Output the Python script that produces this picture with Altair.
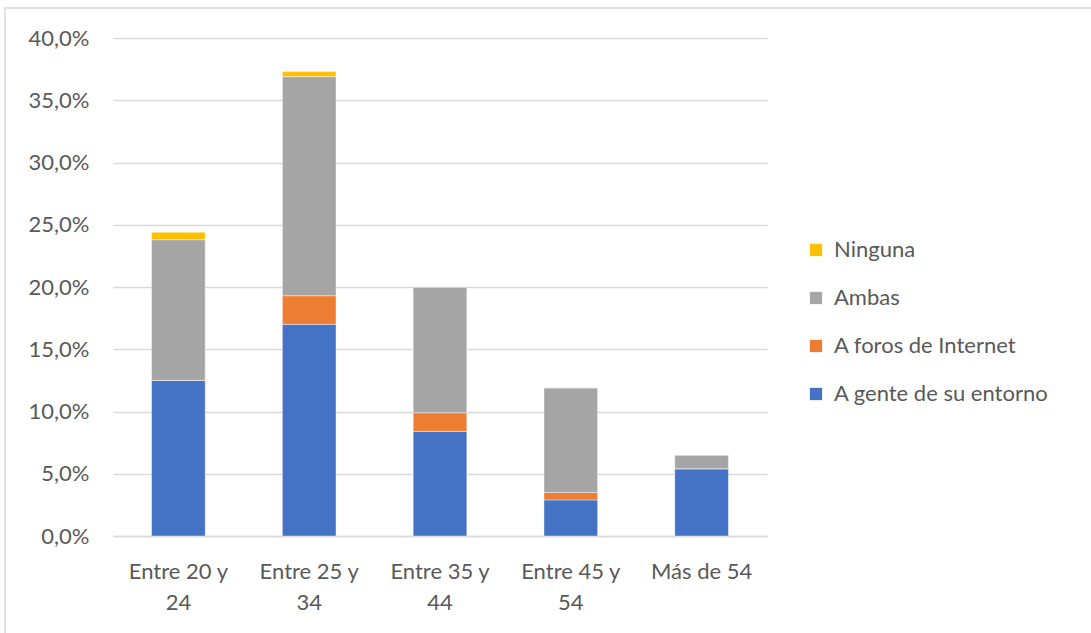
import altair as alt
import pandas as pd

categories = ["Entre 20 y 24", "Entre 25 y 34", "Entre 35 y 44", "Entre 45 y 54", "Más de 54"]
series = ["A gente de su entorno", "A foros de Internet", "Ambas", "Ninguna"]
gente = [12.5, 17.0, 8.4, 2.9, 5.4]
foros = [0.0, 2.3, 1.5, 0.6, 0.0]
ambas = [11.3, 17.6, 10.1, 8.4, 1.1]
ninguna = [0.6, 0.4, 0.0, 0.0, 0.0]

rows = []
for si, (name, vals) in enumerate(zip(series, [gente, foros, ambas, ninguna])):
    for c, v in zip(categories, vals):
        rows.append({"cat": c, "serie": name, "valor": v, "orden": si})
df = pd.DataFrame(rows)

legend_order = ["Ninguna", "Ambas", "A foros de Internet", "A gente de su entorno"]
legend_colors = ["#FFC000", "#A5A5A5", "#ED7D31", "#4472C4"]

font = "Lato"
fs = 22

bars = alt.Chart(df).mark_bar(stroke="white", strokeWidth=0.6, strokeOpacity=0.7).encode(
    x=alt.X("cat:N", sort=categories, title=None,
            scale=alt.Scale(paddingInner=0.59, paddingOuter=0.295),
            axis=alt.Axis(labelAngle=0, ticks=False, domain=True, domainColor="#D9D9D9",
                          domainWidth=1.5, labelPadding=25, labelFontSize=fs,
                          labelColor="#595959", labelFont=font, labelLineHeight=31,
                          labelLimit=0,
                          labelExpr="length(datum.value) > 10 ? [slice(datum.value, 0, 10), slice(datum.value, 11)] : datum.value")),
    y=alt.Y("valor:Q", stack="zero", title=None,
            scale=alt.Scale(domain=[0, 40], nice=False),
            axis=alt.Axis(values=[0, 5, 10, 15, 20, 25, 30, 35, 40], ticks=False, domain=False,
                          gridColor="#D9D9D9", gridWidth=1.5, labelPadding=24,
                          labelFontSize=fs, labelColor="#595959", labelFont=font,
                          labelExpr="replace(format(datum.value, '.1f'), '.', ',') + '%'")),
    color=alt.Color("serie:N", title=None,
                    scale=alt.Scale(domain=legend_order, range=legend_colors),
                    legend=alt.Legend(orient="none", legendX=692, legendY=201,
                                      symbolType="square", symbolSize=150,
                                      symbolStrokeWidth=0, labelFontSize=fs,
                                      labelColor="#595959", labelFont=font,
                                      labelLimit=0,
                                      rowPadding=26, labelOffset=7)),
    order=alt.Order("orden:Q", sort="ascending"),
)

frame = alt.Chart(pd.DataFrame({"k": [0]})).mark_rect(
    fill="white", fillOpacity=0, stroke="#D9D9D9", strokeWidth=1.5
).encode(
    x=alt.value(-108), x2=alt.value(985), y=alt.value(-30), y2=alt.value(602)
)

chart = alt.layer(frame, bars).properties(
    width=654, height=498,
    autosize=alt.AutoSizeParams(type="none"),
    padding={"left": 113, "top": 38, "right": 324, "bottom": 97},
).configure(background="white", view=alt.ViewConfig(stroke=None))

chart.save("out.html", embed_options={"renderer": "svg", "actions": False})
